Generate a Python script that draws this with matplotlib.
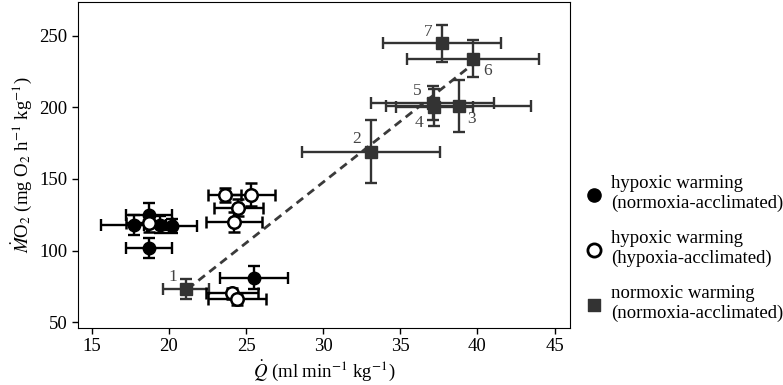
import matplotlib
matplotlib.use("Agg")
import matplotlib.pyplot as plt
import numpy as np

plt.rcParams["font.family"] = ["Liberation Serif", "DejaVu Serif"]
plt.rcParams["mathtext.fontset"] = "stix"

# hypoxic warming, normoxia-acclimated (filled circles)
hn_q = [17.7, 18.7, 19.4, 20.2, 18.7, 25.5]
hn_q_err = [2.1, 1.5, 1.0, 1.6, 1.5, 2.2]
hn_mo2 = [118, 125, 118, 117, 102, 81]
hn_mo2_err = [7, 8, 6, 5, 7, 8]

# hypoxic warming, hypoxia-acclimated (open circles)
hh_q = [18.7, 23.6, 25.3, 24.5, 24.2, 24.1, 24.4]
hh_q_err = [1.5, 1.1, 1.6, 1.6, 1.8, 1.7, 1.9]
hh_mo2 = [119, 139, 139, 130, 120, 70, 66]
hh_mo2_err = [6, 5, 8, 6, 7, 4, 4]

# normoxic warming, normoxia-acclimated (squares, numbered 1-7)
nn_q = [21.1, 33.1, 38.8, 37.2, 37.1, 39.7, 37.7]
nn_q_err = [1.5, 4.5, 4.7, 2.5, 4.0, 4.3, 3.8]
nn_mo2 = [73, 169, 201, 200, 203, 234, 245]
nn_mo2_err = [7, 22, 18, 13, 12, 13, 13]
nn_labels = ["1", "2", "3", "4", "5", "6", "7"]

# dashed regression line
fit_slope = 8.5
fit_intercept = -107.2
fit_range = [21.2, 39.7]

fig = plt.figure(figsize=(7.83, 3.85), dpi=100)
ax = fig.add_axes([0.0996, 0.148, 0.6284, 0.847])

fs = 13.5
err_kw = dict(elinewidth=1.7, capsize=4, capthick=1.7, linestyle="none")

fx = np.array(fit_range)
ax.plot(fx, fit_intercept + fit_slope * fx, color="#3a3a3a", lw=2,
        linestyle=(0, (3, 2)), zorder=2)

ax.errorbar(nn_q, nn_mo2, xerr=nn_q_err, yerr=nn_mo2_err, marker="s",
            ms=8, color="#333333", ecolor="#333333", zorder=3, **err_kw)
ax.errorbar(hn_q, hn_mo2, xerr=hn_q_err, yerr=hn_mo2_err, marker="o",
            ms=9, color="black", ecolor="black", zorder=4, **err_kw)
ax.errorbar(hh_q, hh_mo2, xerr=hh_q_err, yerr=hh_mo2_err, marker="o",
            ms=9, mfc="white", mec="black", mew=1.8, color="black",
            ecolor="black", zorder=5, **err_kw)

# label offsets in pixels
offsets = [(-13, 12), (-14, 13), (13, -13), (-15, -16), (-15, 12), (15, -12), (-14, 11)]
for q, m, lab, off in zip(nn_q, nn_mo2, nn_labels, offsets):
    ax.annotate(lab, (q, m), xytext=off, textcoords="offset pixels",
                ha="center", va="center", fontsize=12.5, color="#444444")

ax.set_xlim(14.1, 46.0)
ax.set_ylim(45.8, 273.8)
ax.set_xticks([15, 20, 25, 30, 35, 40, 45])
ax.set_yticks([50, 100, 150, 200, 250])
ax.tick_params(labelsize=fs, width=1, length=4)
ax.set_xlabel(r"$\dot{Q}$ (ml min$^{-1}$ kg$^{-1}$)", fontsize=fs, labelpad=2)
ax.set_ylabel(r"$\dot{M}$O$_2$ (mg O$_2$ h$^{-1}$ kg$^{-1}$)", fontsize=fs, labelpad=4)

h1 = ax.scatter([], [], marker="o", s=90, color="black")
h2 = ax.scatter([], [], marker="o", s=90, facecolor="white", edgecolor="black", linewidths=2)
h3 = ax.scatter([], [], marker="s", s=80, color="#333333")
fig.legend([h1, h2, h3],
           ["hypoxic warming\n(normoxia-acclimated)",
            "hypoxic warming\n(hypoxia-acclimated)",
            "normoxic warming\n(normoxia-acclimated)"],
           loc="center left", bbox_to_anchor=(0.737, 0.355), frameon=False,
           fontsize=fs, handletextpad=0.4, labelspacing=0.95,
           handlelength=1.0, borderaxespad=0)

fig.savefig("out.png", dpi=100)
